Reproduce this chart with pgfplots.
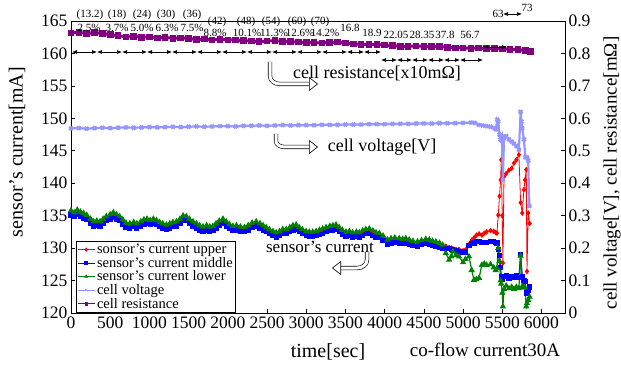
\documentclass[border=0pt]{standalone}
\usepackage{pgfplots}
\pgfplotsset{compat=1.18}
\usepackage{pgfplotstable}
\usepackage{fontspec}
\setmainfont{Liberation Serif}
\usetikzlibrary{arrows.meta}

\definecolor{cred}{RGB}{255,0,0}
\definecolor{cblue}{RGB}{0,0,255}
\definecolor{cgreen}{RGB}{0,128,0}
\definecolor{cvolt}{RGB}{150,150,255}
\definecolor{cres}{RGB}{128,0,128}

\pgfplotstableread{
t low mid up
0 135.8 135.1 135.4
40 135.5 134.9 135.2
80 135.9 135.2 135.5
120 135.6 134.9 135.2
160 135.4 134.6 135.0
200 135.1 134.4 134.7
250 134.5 133.8 134.1
290 134.1 133.4 133.7
330 134.2 133.5 133.8
370 134.1 133.4 133.7
410 134.5 133.8 134.1
450 134.9 134.2 134.5
500 135.2 134.5 134.8
540 135.5 134.7 135.1
580 135.2 134.5 134.8
620 134.9 134.2 134.5
660 134.4 133.7 134.0
700 133.9 133.2 133.5
750 133.8 133.0 133.4
800 134.0 133.3 133.6
840 133.8 133.1 133.4
890 134.1 133.4 133.7
930 134.4 133.7 134.0
970 134.5 133.8 134.1
1010 134.3 133.6 133.9
1050 134.5 133.8 134.1
1090 134.3 133.6 133.9
1130 134.0 133.3 133.6
1170 133.8 133.1 133.4
1217 133.6 132.9 133.2
1260 133.8 133.1 133.4
1300 134.0 133.3 133.6
1344 134.1 133.4 133.7
1390 134.5 133.8 134.1
1430 135.0 134.2 134.6
1470 134.9 134.2 134.5
1510 134.5 133.8 134.1
1556 134.1 133.4 133.7
1600 133.8 133.1 133.4
1640 133.5 132.8 133.1
1683 133.3 132.6 132.9
1730 133.5 132.8 133.1
1770 133.3 132.6 132.9
1810 133.4 132.7 133.0
1850 133.8 133.1 133.4
1890 134.2 133.5 133.8
1938 134.5 133.8 134.1
1980 134.1 133.4 133.7
2020 133.7 133.0 133.3
2065 133.4 132.7 133.0
2110 133.5 132.8 133.1
2160 133.3 132.6 132.9
2214 133.2 132.5 132.8
2260 133.5 132.8 133.1
2310 133.9 133.2 133.5
2362 134.1 133.4 133.7
2410 133.8 133.1 133.4
2450 133.5 132.8 133.1
2490 133.2 132.5 132.8
2530 132.9 132.2 132.5
2575 132.6 131.9 132.2
2617 132.4 131.7 132.0
2660 132.6 131.9 132.2
2700 132.9 132.2 132.5
2744 132.9 132.2 132.5
2790 133.2 132.5 132.8
2830 133.5 132.8 133.1
2871 133.6 132.9 133.2
2910 133.2 132.5 132.8
2950 132.9 132.2 132.5
2999 132.6 131.9 132.2
3040 132.5 131.8 132.1
3083 132.5 131.8 132.1
3126 132.6 131.9 132.2
3170 132.8 132.1 132.4
3210 133.0 132.3 132.6
3253 133.2 132.5 132.8
3300 133.4 132.7 133.0
3340 133.5 132.8 133.1
3380 133.6 132.9 133.2
3420 133.2 132.5 132.8
3460 132.8 132.1 132.4
3507 132.5 131.8 132.1
3550 132.6 131.9 132.2
3590 132.4 131.7 132.0
3640 132.5 131.8 132.1
3677 132.4 131.7 132.0
3720 132.7 132.0 132.3
3760 132.9 132.2 132.5
3804 133.0 132.3 132.6
3850 132.7 132.0 132.3
3890 132.4 131.7 132.0
3931 132.3 131.6 131.9
3980 131.9 131.2 131.5
4037 131.3 130.6 130.9
4080 131.5 130.8 131.1
4130 131.6 130.9 131.2
4186 131.5 130.8 131.1
4230 131.4 130.7 131.0
4270 131.5 130.8 131.1
4313 131.3 130.6 130.9
4360 131.1 130.4 130.7
4419 131.0 130.3 130.6
4470 131.2 130.5 130.8
4525 131.4 130.7 131.0
4570 131.3 130.6 130.9
4610 131.1 130.4 130.7
4653 131.0 130.3 130.6
4700 130.8 130.1 130.4
4740 130.5 129.9 130.4
4780 129.2 130.0 130.3
4822 128.2 129.9 130.1
4850 128.7 129.8 130.0
4870 129.5 129.7 129.9
4910 128.9 129.6 129.8
4949 128.7 129.5 129.8
5000 127.8 129.4 129.6
5030 128.3 129.4 129.7
5076 128.7 130.4 130.6
5110 126.6 130.7 131.2
5140 125.1 130.8 131.6
5170 125.2 131.0 132.0
5204 125.4 131.0 132.2
5240 127.4 130.9 132.0
5270 127.6 130.9 132.3
5300 127.4 130.9 132.5
5350 127.5 131.0 132.7
5390 127.0 131.0 132.6
5416 126.6 130.9 132.4
5432 126.9 130.8 132.3
5449 130.0 129.8 135.1
5465 128.0 128.8 138.0
5479 125.0 127.0 140.5
5487 124.5 125.6 143.6
5500 123.1 125.4 135.0
5508 121.0 125.2 127.7
5522 123.7 125.6 141.0
5550 124.2 125.7 141.5
5585 123.8 125.4 142.0
5620 124.0 125.6 142.3
5650 123.7 125.5 143.1
5680 124.0 125.7 143.6
5712 123.8 125.5 144.4
5734 128.8 129.0 137.0
5755 124.1 125.6 135.4
5776 124.0 125.0 139.0
5790 123.9 124.8 140.5
5806 121.0 123.0 142.1
5815 121.5 123.2 126.4
5831 122.0 123.5 135.4
5849 122.5 124.0 133.8
}\sensor

\pgfplotstableread{
t v
0 .569
100 .570
200 .568
300 .570
400 .571
500 .570
600 .571
700 .572
800 .571
900 .572
1000 .573
1100 .572
1200 .573
1300 .574
1400 .573
1500 .574
1600 .575
1700 .574
1800 .575
1900 .576
2000 .576
2100 .575
2200 .577
2300 .577
2400 .578
2500 .577
2600 .578
2700 .579
2800 .578
2900 .579
3000 .579
3100 .579
3200 .580
3300 .580
3400 .580
3500 .581
3600 .581
3700 .581
3800 .582
3900 .582
4000 .582
4100 .583
4200 .583
4300 .583
4400 .584
4500 .584
4600 .584
4700 .585
4800 .585
4900 .585
5000 .586
5100 .587
5150 .586
5200 .580
5250 .578
5300 .576
5350 .574
5400 .570
5420 .566
5435 .596
5449 .590
5465 .550
5479 .535
5495 .545
5508 .410
5522 .540
5550 .545
5585 .535
5620 .528
5650 .522
5680 .515
5712 .503
5734 .620
5745 .590
5755 .570
5776 .535
5795 .480
5815 .480
5831 .470
5845 .330
}\volt

\pgfplotstableread{
t r
0 .863
100 .865
200 .862
300 .864
400 .862
500 .858
600 .855
700 .851
800 .852
900 .850
1000 .851
1100 .848
1200 .849
1300 .847
1400 .848
1500 .846
1600 .843
1700 .844
1800 .842
1900 .843
2000 .842
2100 .841
2200 .840
2300 .838
2400 .837
2500 .838
2600 .839
2700 .837
2800 .836
2900 .835
3000 .834
3100 .833
3200 .832
3300 .834
3400 .835
3500 .832
3600 .829
3700 .828
3800 .828
3900 .827
4000 .826
4100 .824
4200 .822
4300 .822
4400 .823
4500 .822
4600 .821
4700 .821
4800 .819
4900 .817
5000 .817
5100 .816
5200 .817
5300 .815
5400 .815
5500 .814
5600 .813
5700 .812
5800 .809
5860 .806
}\res

\pgfplotsset{
  base/.style={
    at={(71pt,-313pt)}, anchor=south west,
    scale only axis, width=494pt, height=292pt,
    xmin=0, xmax=6300,
    tick align=inside, major tick length=4pt,
    axis line style={line width=0.8pt},
    tick style={line width=0.6pt, black},
    tick label style={font=\fontsize{17.5}{17.5}\selectfont},
    /pgf/number format/assume math mode=true,
  }
}

\begin{document}
\begin{tikzpicture}[x=1pt,y=1pt]
\begin{axis}[base,
  ymin=120, ymax=165,
  ytick={120,125,...,165},
  xtick={0,500,...,6000},
  xticklabels={0,500,1000,1500,2000,2500,3000,3500,4000,4500,5000,5500,6000},
  xtick pos=bottom, ytick pos=left,
]
\addplot[cred, line width=0.8pt, mark=diamond*, mark size=2.2pt] table[x=t,y=up]{\sensor};
\addplot[cblue, line width=1.2pt, mark=square*, mark size=2.0pt] table[x=t,y=mid]{\sensor};
\addplot[cgreen, line width=1.2pt, mark=triangle*, mark size=2.5pt] table[x=t,y=low]{\sensor};
\end{axis}

\begin{axis}[base,
  ymin=0, ymax=0.9,
  axis x line=none, axis y line*=right,
  ytick={0,0.1,0.2,0.3,0.4,0.5,0.6,0.7,0.8,0.9},
  yticklabels={0,0.1,0.2,0.3,0.4,0.5,0.6,0.7,0.8,0.9},
  legend cell align=left,
  legend style={at={(0.01,0)}, anchor=south west, draw=black, line width=1pt,
    fill=white, font=\fontsize{14.5}{14.5}\selectfont,
    inner sep=1pt, row sep=-2pt},
]
\addlegendimage{cred, line width=0.5pt, mark=diamond*, mark size=1.8pt}
\addlegendentry{sonsor's current upper}
\addlegendimage{cblue, line width=0.5pt, mark=square*, mark size=1.5pt}
\addlegendentry{sensor's current middle}
\addlegendimage{cgreen, line width=0.5pt, mark=triangle*, mark size=1.8pt}
\addlegendentry{sensor's current lower}
\addplot[cvolt, line width=2.2pt, mark=x, mark size=2.5pt, forget plot] table[x=t,y=v]{\volt};
\addplot[cres, line width=3pt, mark=square*, mark size=1.8pt, forget plot] table[x=t,y=r]{\res};
\addlegendimage{cvolt, line width=0.5pt, mark=x, mark size=1.8pt}
\addlegendentry{cell voltage}
\addlegendimage{cres, line width=0.5pt, mark=square*, mark size=1.3pt}
\addlegendentry{cell resistance}
\end{axis}

% axis labels
\node[rotate=90, font=\fontsize{20}{20}\selectfont] at (17,-152) {sensor's current[mA]};
\node[rotate=90, font=\fontsize{19}{19}\selectfont] at (612,-173) {cell voltage[V], cell resistance[mΩ]};
\node[font=\fontsize{20}{20}\selectfont] at (328,-352) {time[sec]};
\node[font=\fontsize{19}{19}\selectfont] at (485,-350) {co-flow current30A};

% in-plot labels
\node[font=\fontsize{18}{18}\selectfont] at (377,-73) {cell resistance[x10mΩ]};
\node[font=\fontsize{18}{18}\selectfont] at (382,-147) {cell voltage[V]};
\node[font=\fontsize{17}{17}\selectfont] at (320,-247) {sensor's current};

% hollow arrows
\draw[double distance=3pt, line width=0.6pt, -{Triangle[open,length=9pt,width=14pt]}]
  (270,-62) -- (270,-76) to[out=-90,in=180] (280,-84) -- (318,-84);
\draw[double distance=3pt, line width=0.6pt, -{Triangle[open,length=9pt,width=14pt]}]
  (276,-134) -- (276,-141) to[out=-90,in=180] (285,-147) -- (318,-147);
\draw[double distance=3pt, line width=0.6pt, -{Triangle[open,length=9pt,width=14pt]}]
  (367,-252) -- (367,-260) to[out=-90,in=0] (357,-268) -- (332,-268);

% top annotations
\begin{scope}[font=\fontsize{11}{11}\selectfont]
\node at (90,-15) {(13.2)};
\node at (117,-15) {(18)};
\node at (142,-15) {(24)};
\node at (166,-15) {(30)};
\node at (192,-15) {(36)};
\node at (217,-22) {(42)};
\node at (246,-22) {(48)};
\node at (271,-22) {(54)};
\node at (297,-22) {(60)};
\node at (320,-22) {(70)};
\node at (89,-28) {2.5\%};
\node at (117,-28) {3.7\%};
\node at (142,-28) {5.0\%};
\node at (167,-28) {6.3\%};
\node at (192,-28) {7.5\%};
\node at (215,-33) {8.8\%};
\node at (247,-33) {10.1\%};
\node at (274,-33) {11.3\%};
\node at (300,-33) {12.6\%};
\node at (325,-33) {14.2\%};
\node at (350,-28) {16.8};
\node at (372,-33) {18.9};
\node at (396,-35) {22.05};
\node at (422,-35) {28.35};
\node at (445,-35) {37.8};
\node at (470,-35) {56.7};
\node at (498,-14) {63};
\node at (527,-8) {73};
\end{scope}
\begin{scope}[line width=0.7pt, {Latex[length=5pt,width=4pt]}-{Latex[length=5pt,width=4pt]}]
\foreach \a/\b in {72/97,97/122,122/147,147/172,172/197,197/222,222/247,247/272,272/297,297/322,322/347,347/364,364/381}
  \draw (\a,-52) -- (\b,-52);
\foreach \a/\b in {381/397,397/412,412/428,428/444,444/460,460/483}
  \draw (\a,-60) -- (\b,-60);
\draw (483,-47) -- (507,-47);
\draw (503,-14) -- (522,-14);
\end{scope}

\pgfresetboundingbox
\path[use as bounding box] (0,0) rectangle (621,-366);
\end{tikzpicture}
\end{document}
